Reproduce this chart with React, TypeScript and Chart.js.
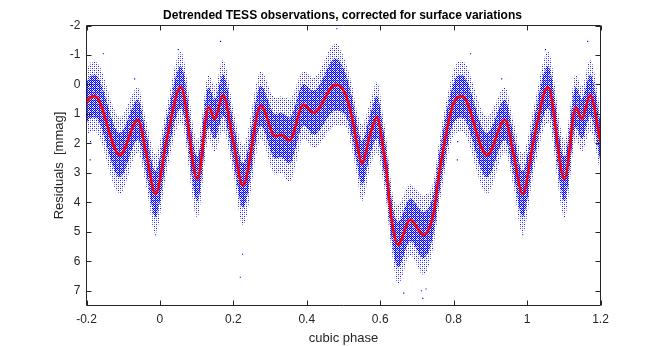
import React, { useEffect, useRef } from 'react';
import { Chart, registerables } from 'chart.js';

Chart.register(...registerables);

// Fitted model curve (one period of the cubic phase; shown repeated)
const curvePhase = [
  0.018, 0.057, 0.102, 0.133, 0.149, 0.172, 0.200, 0.226, 0.275, 0.314,
  0.330, 0.353, 0.391, 0.419, 0.478, 0.505, 0.523, 0.537, 0.550, 0.573,
  0.591, 0.609, 0.618, 0.627, 0.636, 0.648, 0.682, 0.718, 0.745, 0.762,
  0.800, 0.823, 0.891, 0.940, 0.963, 0.988,
];
const curveMag = [
  1.90, 0.09, 3.21, 0.77, 1.17, 0.37, 1.95, 3.43, 0.72, 1.76,
  1.71, 1.90, 0.69, 0.96, 0.01, 0.32, 1.11, 2.02, 2.67, 1.68,
  1.11, 2.24, 3.04, 4.17, 4.96, 5.44, 4.59, 5.11, 4.39, 2.92,
  0.63, 0.40, 2.40, 1.20, 2.35, 3.72,
];
// Observed scatter: dense core half-width and sparse halo half-width (mmag) at each curve phase
const coreSpread = [
  0.68, 0.72, 0.75, 0.68, 0.68, 0.7, 0.68, 0.75, 0.68, 0.75,
  0.75, 0.78, 0.7, 0.75, 0.88, 0.72, 0.68, 0.68, 0.75, 0.68,
  0.72, 0.68, 0.68, 0.68, 0.68, 0.78, 0.72, 0.78, 0.68, 0.68,
  0.68, 0.72, 0.75, 0.68, 0.68, 0.78,
];
const haloSpread = [
  1.1, 1.2, 1.3, 1.1, 1.1, 1.2, 1.1, 1.35, 1.15, 1.3,
  1.3, 1.4, 1.15, 1.2, 1.4, 1.1, 1.1, 1.1, 1.3, 1.1,
  1.2, 1.1, 1.1, 1.1, 1.1, 1.35, 1.2, 1.35, 1.1, 1.1,
  1.1, 1.2, 1.3, 1.1, 1.1, 1.35,
];
// Isolated outlying observations (phase, mmag)
const outlierPhase = [0.165, 0.050, 0.846, 0.931, 0.482, 0.219, 0.225, 0.716, 0.712, 0.664, 0.725, 0.988, 0.811, 0.810];
const outlierMag = [-1.46, -1.18, -1.04, -0.19, -1.89, 6.54, 5.76, 7.26, 7.00, 7.08, 6.94, 5.10, 1.94, 2.56];

const xTicks = [-0.2, 0, 0.2, 0.4, 0.6, 0.8, 1, 1.2];
const yTicks = [-2, -1, 0, 1, 2, 3, 4, 5, 6, 7];
const X_MIN = -0.2;
const X_MAX = 1.2;
const Y_MIN = -2;
const Y_MAX = 7.5;
const PERIOD_SHIFTS = [-1, 0, 1];

const FONT = '"Liberation Sans", Arial, Helvetica, sans-serif';
const AXIS_COLOR = '#262626';

// ordered-dither matrix used for the speckle texture of the scatter cloud
const BAYER8 = [
  [0, 32, 8, 40, 2, 34, 10, 42],
  [48, 16, 56, 24, 50, 18, 58, 26],
  [12, 44, 4, 36, 14, 46, 6, 38],
  [60, 28, 52, 20, 62, 30, 54, 22],
  [3, 35, 11, 43, 1, 33, 9, 41],
  [51, 19, 59, 27, 49, 17, 57, 25],
  [15, 47, 7, 39, 13, 45, 5, 37],
  [63, 31, 55, 23, 61, 29, 53, 21],
];

type Pt = { x: number; y: number };

function unfold(phase: number[], vals: number[]): Pt[] {
  const pts: Pt[] = [];
  for (const s of PERIOD_SHIFTS) {
    phase.forEach((p, i) => {
      const x = p + s;
      if (x >= X_MIN - 0.12 && x <= X_MAX + 0.12) pts.push({ x, y: vals[i] });
    });
  }
  return pts.sort((a, b) => a.x - b.x);
}

function makePattern(alphaAt: (v: number) => number): CanvasPattern | string {
  const c = document.createElement('canvas');
  c.width = 8;
  c.height = 8;
  const g = c.getContext('2d');
  if (!g) return 'rgba(0,0,255,0.4)';
  for (let y = 0; y < 8; y++) {
    for (let x = 0; x < 8; x++) {
      const a = alphaAt(BAYER8[y][x]);
      if (a > 0) {
        g.fillStyle = `rgba(0,0,255,${a})`;
        g.fillRect(x, y, 1, 1);
      }
    }
  }
  return g.createPattern(c, 'repeat') || 'rgba(0,0,255,0.4)';
}

const boxPlugin = {
  id: 'matlabBox',
  afterDraw(chart: any) {
    const { ctx, chartArea } = chart;
    const { left, right, top, bottom } = chartArea;
    const xs = chart.scales.x;
    const ys = chart.scales.y;
    ctx.save();
    ctx.strokeStyle = AXIS_COLOR;
    ctx.lineWidth = 1;
    ctx.beginPath();
    ctx.rect(left, top, right - left, bottom - top);
    const tl = 5;
    xTicks.forEach((v) => {
      const px = Math.round(xs.getPixelForValue(v)) + 0.5;
      ctx.moveTo(px, bottom);
      ctx.lineTo(px, bottom - tl);
      ctx.moveTo(px, top);
      ctx.lineTo(px, top + tl);
    });
    yTicks.forEach((v) => {
      const py = Math.round(ys.getPixelForValue(v)) + 0.5;
      ctx.moveTo(left, py);
      ctx.lineTo(left + tl, py);
      ctx.moveTo(right, py);
      ctx.lineTo(right - tl, py);
    });
    ctx.stroke();
    ctx.fillStyle = '#000000';
    ctx.font = `bold 12px ${FONT}`;
    ctx.textAlign = 'center';
    ctx.textBaseline = 'alphabetic';
    ctx.fillText('Detrended TESS observations, corrected for surface variations', 342.5, 18.5);
    ctx.restore();
  },
};

export default function App() {
  const ref = useRef<HTMLCanvasElement | null>(null);

  useEffect(() => {
    document.body.style.margin = '0';
    const canvas = ref.current;
    if (!canvas) return;

    const curve = unfold(curvePhase, curveMag);
    const coreUp = unfold(curvePhase, curveMag.map((m, i) => m - coreSpread[i]));
    const coreDown = unfold(curvePhase, curveMag.map((m, i) => m + coreSpread[i]));
    const haloUp = unfold(curvePhase, curveMag.map((m, i) => m - haloSpread[i]));
    const haloDown = unfold(curvePhase, curveMag.map((m, i) => m + haloSpread[i]));
    const outliers = unfold(outlierPhase, outlierMag);

    const densePattern = makePattern((v) => (v < 30 ? 1 : v < 44 ? 0.55 : 0));
    const sparsePattern = makePattern((v) => (v < 8 ? 0.9 : v < 16 ? 0.45 : 0));

    const bandBase = {
      borderWidth: 0,
      borderColor: 'rgba(0,0,0,0)',
      pointRadius: 0,
      cubicInterpolationMode: 'monotone' as const,
    };

    const chart = new Chart(canvas, {
      type: 'line',
      data: {
        datasets: [
          { ...bandBase, data: haloUp, fill: false, order: 5 },
          { ...bandBase, data: haloDown, fill: '-1', backgroundColor: sparsePattern as any, order: 5 },
          { ...bandBase, data: coreUp, fill: false, order: 4 },
          { ...bandBase, data: coreDown, fill: '-1', backgroundColor: densePattern as any, order: 4 },
          {
            data: outliers,
            showLine: false,
            pointRadius: 0.8,
            pointStyle: 'rect',
            pointBackgroundColor: '#0000ff',
            pointBorderWidth: 0,
            borderWidth: 0,
            order: 3,
          },
          {
            data: curve,
            borderColor: '#ff0000',
            borderWidth: 2.5,
            pointRadius: 0,
            fill: false,
            cubicInterpolationMode: 'monotone',
            order: 1,
          },
        ],
      },
      options: {
        animation: false,
        responsive: false,
        maintainAspectRatio: false,
        events: [],
        layout: { padding: { top: 25.5, right: 63.5, bottom: 0, left: 0 } },
        plugins: {
          legend: { display: false },
          tooltip: { enabled: false },
          title: { display: false },
        },
        scales: {
          x: {
            type: 'linear',
            min: X_MIN,
            max: X_MAX,
            afterBuildTicks: (s: any) => {
              s.ticks = xTicks.map((v) => ({ value: v }));
            },
            afterFit: (s: any) => {
              s.height = 40.5;
            },
            grid: { display: false, drawTicks: false },
            border: { display: false },
            ticks: {
              padding: 7,
              color: AXIS_COLOR,
              font: { family: FONT, size: 12 },
              maxRotation: 0,
              autoSkip: false,
              callback: (v: any) => String(Math.round(Number(v) * 10) / 10),
            },
            title: {
              display: true,
              text: 'cubic phase',
              color: AXIS_COLOR,
              font: { family: FONT, size: 13 },
              padding: 0,
            },
          },
          y: {
            type: 'linear',
            reverse: true,
            min: Y_MIN,
            max: Y_MAX,
            afterBuildTicks: (s: any) => {
              s.ticks = yTicks.map((v) => ({ value: v }));
            },
            afterFit: (s: any) => {
              s.width = 86.5;
            },
            grid: { display: false, drawTicks: false },
            border: { display: false },
            ticks: {
              padding: 6,
              color: AXIS_COLOR,
              font: { family: FONT, size: 12 },
              autoSkip: false,
              callback: (v: any) => String(v),
            },
            title: {
              display: true,
              text: 'Residuals  [mmag]',
              color: AXIS_COLOR,
              font: { family: FONT, size: 13 },
              padding: { top: 52, bottom: 0 },
            },
          },
        },
      },
      plugins: [boxPlugin],
    });

    return () => {
      chart.destroy();
    };
  }, []);

  return (
    <div style={{ position: 'absolute', left: 0, top: 0, width: 664, height: 346, background: '#ffffff' }}>
      <canvas ref={ref} width={664} height={346} style={{ display: 'block', width: 664, height: 346 }} />
    </div>
  );
}
